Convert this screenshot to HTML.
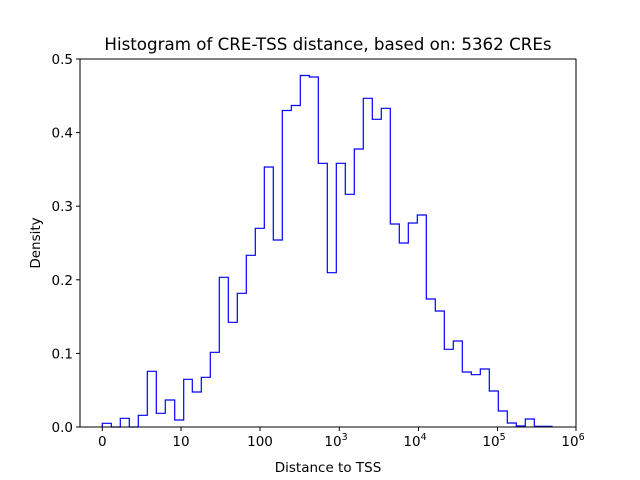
<!DOCTYPE html>
<html><head><meta charset="utf-8"><style>body{margin:0;background:#fff}svg{display:block}text{font-family:"DejaVu Sans","Liberation Sans",sans-serif;fill:#000}</style></head>
<body>
<svg width="640" height="480" viewBox="0 0 640 480" xmlns="http://www.w3.org/2000/svg">
<rect width="640" height="480" fill="#fff"/>
<path d="M102.3,427 V423.3 H111.3 V427 H120.3 V418.3 H129.3 V427 H138.3 V415.3 H147.3 V371.3 H156.3 V413.3 H165.3 V400 H174.7 V420 H183.7 V379.3 H192.3 V392 H201.3 V377.3 H210.3 V352.3 H219.3 V277.3 H228.3 V322.3 H237.3 V293.3 H246.3 V255.3 H255.3 V228.3 H264.3 V167 H273.3 V240 H282.3 V110.5 H291.3 V105.5 H300.3 V75.5 H309.3 V77 H318.3 V163.3 H327.3 V272.7 H336.3 V163.3 H345.3 V194.3 H354.3 V149 H363.3 V98.3 H372.3 V119.3 H381.3 V108.3 H390.3 V224 H399.3 V243 H408.3 V223 H417.3 V215 H426.3 V299 H435.3 V311 H444.3 V349.3 H453.3 V341 H462.3 V372 H471.3 V374.7 H480.3 V369 H489.3 V391 H498.3 V411 H507.3 V423 H516.3 V426 H525.3 V419 H534.3 V426.3 H552 V427" fill="none" stroke="#0000ff" stroke-width="1.2"/>
<rect x="80" y="59" width="496" height="368" fill="none" stroke="#000" stroke-width="1"/>
<g stroke="#000" stroke-width="1">
<line x1="102.3" y1="427" x2="102.3" y2="431"/><line x1="181" y1="427" x2="181" y2="431"/><line x1="260" y1="427" x2="260" y2="431"/><line x1="339.3" y1="427" x2="339.3" y2="431"/><line x1="418.5" y1="427" x2="418.5" y2="431"/><line x1="497.5" y1="427" x2="497.5" y2="431"/><line x1="576" y1="427" x2="576" y2="431"/>
<line x1="76" y1="427" x2="80" y2="427"/><line x1="76" y1="353.4" x2="80" y2="353.4"/><line x1="76" y1="279.8" x2="80" y2="279.8"/><line x1="76" y1="206.2" x2="80" y2="206.2"/><line x1="76" y1="132.6" x2="80" y2="132.6"/><line x1="76" y1="59" x2="80" y2="59"/>
</g>
<g font-size="13.5" text-anchor="end">
<text x="73" y="432">0.0</text><text x="73" y="358.4">0.1</text><text x="73" y="284.8">0.2</text><text x="73" y="211.2">0.3</text><text x="73" y="137.6">0.4</text><text x="73" y="64">0.5</text>
</g>
<g font-size="13.5" text-anchor="middle">
<text x="102.3" y="446">0</text><text x="181" y="446">10</text><text x="260" y="446">100</text>
<text x="336" y="446">10<tspan font-size="9.5" dy="-6">3</tspan></text>
<text x="415" y="446">10<tspan font-size="9.5" dy="-6">4</tspan></text>
<text x="494" y="446">10<tspan font-size="9.5" dy="-6">5</tspan></text>
<text x="573" y="446">10<tspan font-size="9.5" dy="-6">6</tspan></text>
<text x="328" y="472">Distance to TSS</text>
<text x="328" y="50" font-size="16.7">Histogram of CRE-TSS distance, based on: 5362 CREs</text>
<text transform="translate(40,243) rotate(-90)">Density</text>
</g>
</svg>
</body></html>
